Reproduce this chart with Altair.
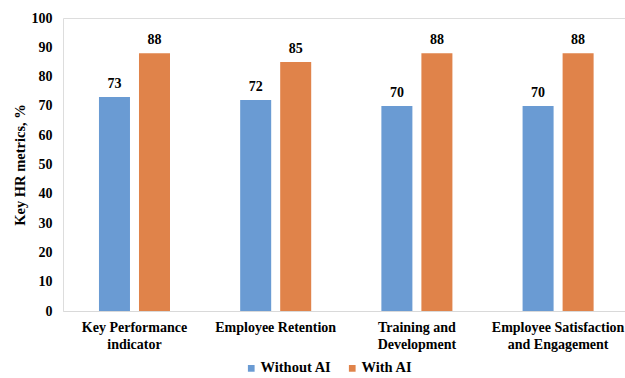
import altair as alt
import pandas as pd

# Category labels, split into display lines
category_lines = [
    ["Key Performance", "indicator"],
    ["Employee Retention"],
    ["Training and", "Development"],
    ["Employee Satisfaction", "and Engagement"],
]
categories = [" ".join(lines) for lines in category_lines]

series = ["Without AI", "With AI"]
without_ai = [73, 72, 70, 70]
with_ai = [88, 85, 88, 88]
colors = ["#6A9BD3", "#E0834A"]

rows = []
for cat, a, b in zip(categories, without_ai, with_ai):
    rows.append({"category": cat, "series": series[0], "value": a})
    rows.append({"category": cat, "series": series[1], "value": b})
df = pd.DataFrame(rows)

# multi-line x labels
label_expr = ""
for cat, lines in zip(categories, category_lines):
    arr = "[" + ",".join("'" + l + "'" for l in lines) + "]"
    label_expr += f"datum.value == '{cat}' ? {arr} : "
label_expr += "datum.value"

FONT = "Liberation Serif"

x = alt.X(
    "category:N",
    sort=categories,
    title=None,
    scale=alt.Scale(paddingInner=0.497, paddingOuter=0.2385, align=0.534),
    axis=alt.Axis(
        labelAngle=0,
        labelExpr=label_expr,
        labelFont=FONT,
        labelFontSize=14,
        labelFontWeight="bold",
        labelColor="#000000",
        labelLineHeight=17,
        labelPadding=9,
        ticks=False,
        domainColor="#D9D9D9",
        domainWidth=1,
        grid=False,
    ),
)
x_off = alt.XOffset(
    "series:N", sort=series, scale=alt.Scale(paddingInner=0.225, paddingOuter=0)
)
y = alt.Y(
    "value:Q",
    scale=alt.Scale(domain=[0, 100]),
    title="Key HR metrics, %",
    axis=alt.Axis(
        values=list(range(0, 101, 10)),
        labelFont=FONT,
        labelFontSize=14,
        labelFontWeight="bold",
        labelColor="#000000",
        labelPadding=11,
        ticks=False,
        domain=False,
        grid=False,
        titleFont=FONT,
        titleFontSize=14.5,
        titleFontWeight="bold",
        titleColor="#000000",
        titlePadding=4,
    ),
)
color = alt.Color(
    "series:N",
    sort=series,
    scale=alt.Scale(domain=series, range=colors),
    legend=alt.Legend(
        title=None,
        orient="none",
        direction="horizontal",
        legendX=181,
        legendY=343,
        symbolType="square",
        symbolSize=45,
        symbolStrokeWidth=0,
        labelFont=FONT,
        labelFontSize=14.5,
        labelFontWeight="bold",
        labelColor="#000000",
        labelOffset=2,
        columnPadding=13,
    ),
)

bars = alt.Chart(df).mark_bar().encode(x=x, xOffset=x_off, y=y, color=color)
labels = alt.Chart(df).mark_text(
    baseline="bottom", dy=-6, font=FONT, fontSize=14, fontWeight="bold", color="#000000"
).encode(x=x, xOffset=x_off, y=y, text=alt.Text("value:Q"))

chart = (
    alt.layer(bars, labels)
    .properties(
        width=562,
        height=293,
        autosize=alt.AutoSizeParams(type="none"),
        padding={"left": 63, "top": 18, "right": 0, "bottom": 67},
    )
    .configure_view(stroke=None)
    .configure(background="#FFFFFF")
)

chart.save("out.html", embed_options={"renderer": "svg", "actions": False})
